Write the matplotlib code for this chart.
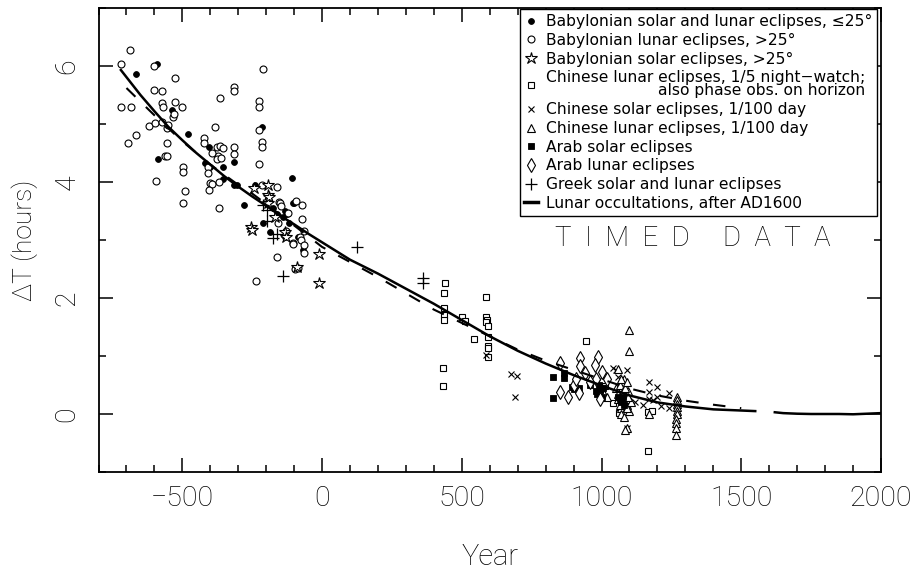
import matplotlib
matplotlib.use("Agg")
import matplotlib.pyplot as plt
from matplotlib.lines import Line2D
from matplotlib.ticker import MultipleLocator

# ---- observations: (year, Delta T in hours) ----
bab_low_year = [-665, -592, -537, -587, -481, -406, -420, -401, -315, -354,
                -354, -314, -305, -280, -239, -216, -212, -188, -108, -100,
                -105, -132, -126, -160, -140, -132, -88, -67, -120, -175]
bab_low_dt = [5.87, 6.03, 5.24, 4.39, 4.83, 4.60, 4.32, 4.26, 4.34, 4.26,
              4.05, 3.94, 3.94, 3.61, 3.95, 4.94, 3.30, 3.14, 4.07, 3.64,
              3.63, 3.50, 3.45, 3.45, 3.40, 3.06, 3.06, 2.83, 3.30, 3.55]

bab_lunar_year = [-686, -721, -600, -720, -684, -694, -665, -601, -573, -525,
                  -620, -599, -573, -555, -553, -554, -562, -556, -525, -501,
                  -573, -568, -535, -530, -596, -499, -499, -489, -499, -382,
                  -422, -422, -365, -315, -315, -315, -315, -375, -365, -355,
                  -371, -407, -407, -402, -395, -368, -404, -368, -211, -225,
                  -225, -225, -216, -216, -225, -216, -161, -154, -162, -73,
                  -73, -93, -121, -80, -76, -64, -64, -64, -104, -156,
                  -130, -238, -96, -88, -105, -150, -146, -375, -360, -395]
bab_lunar_dt = [6.28, 6.03, 6.00, 5.30, 5.30, 4.67, 4.81, 5.59, 5.57, 5.80,
                4.97, 5.01, 5.04, 4.93, 4.98, 4.68, 4.45, 4.45, 5.38, 5.29,
                5.36, 5.30, 5.12, 5.18, 4.01, 4.26, 4.17, 3.85, 3.63, 4.95,
                4.75, 4.67, 5.45, 5.64, 5.57, 4.61, 4.49, 4.60, 4.62, 4.58,
                4.44, 4.26, 4.16, 3.98, 3.97, 4.00, 3.86, 3.56, 5.95, 5.40,
                5.30, 4.90, 4.69, 4.61, 4.31, 3.95, 3.92, 3.66, 2.71, 3.60,
                3.36, 3.67, 3.46, 3.05, 3.00, 2.91, 2.77, 3.16, 2.95, 3.29,
                3.16, 2.30, 2.50, 2.52, 2.93, 3.64, 3.58, 4.40, 4.42, 4.50]

bab_solar_year = [-254, -250, -192, -192, -192, -168, -132, -90, -243, -10,
                  -10, -189, -130]
bab_solar_dt = [3.22, 3.18, 3.95, 3.78, 3.63, 3.40, 3.14, 2.54, 3.89, 2.76,
                2.26, 3.74, 3.05]

chn_watch_year = [439, 436, 436, 436, 436, 433, 433, 501, 513, 543,
                  585, 586, 590, 586, 594, 592, 592, 592, 594, 945,
                  1040, 1062, 1165, 1165, 1180, 1014, 1000, 1065, 1075]
chn_watch_dt = [2.25, 2.08, 1.82, 1.71, 1.62, 0.79, 0.49, 1.68, 1.60, 1.29,
                2.01, 1.68, 1.62, 1.59, 1.52, 1.33, 1.18, 1.13, 0.98, 1.25,
                0.19, 0.02, -0.64, 0.03, 0.05, 0.48, 0.40, 0.35, 0.50]

chn_solar_year = [586, 677, 699, 689, 1040, 1050, 1090, 1058, 1171, 1171,
                  1197, 1243, 1213, 1240, 1171, 1185, 1090, 1000, 1010, 975,
                  1075, 1120, 1200, 1150]
chn_solar_dt = [1.02, 0.69, 0.66, 0.30, 0.79, 0.76, 0.75, 0.64, 0.56, 0.38,
                0.47, 0.37, 0.13, 0.11, 0.25, 0.24, -0.25, 0.45, 0.62, 0.55,
                0.30, 0.20, 0.30, 0.15]

chn_lunar_year = [1098, 1098, 1269, 1269, 1269, 1269, 1269, 1269, 1268, 1267,
                  1266, 1265, 1091, 1084, 1060, 1080, 1075, 1070, 1085, 1090,
                  1100, 1060, 1050, 1170, 1080, 1095, 1065, 1070, 1100, 1080,
                  1010, 990, 1000, 1020, 1090, 1105, 1060, 1065, 1075, 1085,
                  1095, 1070, 1090]
chn_lunar_dt = [1.44, 1.09, 0.30, 0.24, 0.18, 0.12, 0.06, 0.00, -0.08, -0.16,
                -0.24, -0.36, -0.25, -0.27, 0.78, 0.30, 0.20, 0.10, 0.05, 0.15,
                0.25, 0.35, 0.45, 0.00, 0.60, 0.40, 0.50, 0.00, 0.05, -0.05,
                0.35, 0.45, 0.60, 0.30, 0.10, 0.20, 0.25, 0.15, 0.40, 0.45,
                0.30, 0.60, 0.55]

arab_solar_year = [826, 864, 866, 895, 900, 921, 826, 980, 985, 1000,
                   990, 1005, 960, 1060, 1070, 995, 1065, 1075, 1080]
arab_solar_dt = [0.63, 0.70, 0.62, 0.47, 0.43, 0.45, 0.28, 0.40, 0.35, 0.30,
                 0.50, 0.45, 0.50, 0.30, 0.20, 0.42, 0.25, 0.30, 0.15]

arab_lunar_year = [852, 924, 924, 988, 1001, 852, 921, 980, 960, 900,
                   880, 940, 1020, 995, 975, 910]
arab_lunar_dt = [0.88, 0.96, 0.82, 0.98, 0.73, 0.38, 0.36, 0.60, 0.55, 0.50,
                 0.30, 0.70, 0.60, 0.25, 0.85, 0.60]

greek_year = [-198, -198, -174, 124, -140, 362, 362, -210, -160]
greek_dt = [3.52, 3.32, 3.03, 2.88, 2.38, 2.34, 2.25, 3.60, 3.10]

# ---- fitted curves ----
fit_year = [-720, -650, -600, -550, -500, -450, -400, -350, -300, -250,
            -200, -150, -100, -50, 0, 100, 200, 300, 400, 500,
            600, 700, 800, 900, 1000, 1100, 1200, 1300, 1400, 1500, 1550]
fit_dt = [5.93, 5.50, 5.22, 4.95, 4.72, 4.50, 4.30, 4.10, 3.92, 3.75,
          3.59, 3.42, 3.27, 3.11, 2.96, 2.66, 2.42, 2.16, 1.90, 1.62,
          1.34, 1.09, 0.87, 0.67, 0.49, 0.32, 0.20, 0.13, 0.08, 0.06, 0.05]

alt_year = [-700, -600, -500, -400, -300, -250, -200, -100, 0, 100,
            200, 300, 400, 500, 600, 700, 800, 900, 1000, 1100,
            1200, 1300, 1400, 1500]
alt_dt = [5.62, 5.15, 4.70, 4.30, 3.95, 3.80, 3.62, 3.25, 2.88, 2.62,
          2.36, 2.08, 1.80, 1.57, 1.34, 1.11, 0.92, 0.76, 0.60, 0.44,
          0.32, 0.23, 0.16, 0.10]

occ_year = [1620, 1650, 1700, 1750, 1800, 1850, 1900, 1950, 2000]
occ_dt = [0.03, 0.015, 0.005, 0.0, 0.0, 0.0, -0.005, 0.005, 0.015]

legend_labels = [
    "Babylonian solar and lunar eclipses, \u226425\u00b0",
    "Babylonian lunar eclipses, >25\u00b0",
    "Babylonian solar eclipses, >25\u00b0",
    "Chinese lunar eclipses, 1/5 night\u2212watch;\nalso phase obs. on horizon",
    "Chinese solar eclipses, 1/100 day",
    "Chinese lunar eclipses, 1/100 day",
    "Arab solar eclipses",
    "Arab lunar eclipses",
    "Greek solar and lunar eclipses",
    "Lunar occultations, after AD1600",
]

FONT = ["Roboto", "DejaVu Sans"]


def draw_delta_t():
    plt.rcParams["font.family"] = FONT
    plt.rcParams["font.weight"] = "light"
    plt.rcParams["axes.labelweight"] = "light"

    fig = plt.figure(figsize=(9.2, 5.74), dpi=100)
    ax = fig.add_axes([0.1071, 0.1777, 0.8505, 0.8084])

    k = dict(color="black", linestyle="none")
    # series styles, in legend order
    styles = [
        dict(marker="o", ms=4.2, mfc="black", mew=0.6),
        dict(marker="o", ms=5.0, mfc="white", mew=0.8),
        dict(marker="*", ms=9, mfc="white", mew=0.8),
        dict(marker="s", ms=5, mfc="white", mew=0.8),
        dict(marker="x", ms=5, mew=0.8),
        dict(marker="^", ms=6, mfc="white", mew=0.8),
        dict(marker="s", ms=4.2, mfc="black", mew=0.6),
        dict(marker="d", ms=7.5, mfc="white", mew=0.8),
        dict(marker="+", ms=8, mew=0.9),
    ]
    series = [
        (bab_low_year, bab_low_dt),
        (bab_lunar_year, bab_lunar_dt),
        (bab_solar_year, bab_solar_dt),
        (chn_watch_year, chn_watch_dt),
        (chn_solar_year, chn_solar_dt),
        (chn_lunar_year, chn_lunar_dt),
        (arab_solar_year, arab_solar_dt),
        (arab_lunar_year, arab_lunar_dt),
        (greek_year, greek_dt),
    ]

    ax.plot(fit_year, fit_dt, color="black", lw=1.8, zorder=3)
    ax.plot(alt_year, alt_dt, color="black", lw=1.5, ls=(0, (6, 7)), zorder=3)
    ax.plot(occ_year, occ_dt, color="black", lw=1.8, zorder=3)

    for (yr, dt), st in zip(series, styles):
        ax.plot(yr, dt, mec="black", zorder=2, **k, **st)

    ax.set_xlim(-800, 2000)
    ax.set_ylim(-1, 7)
    ax.xaxis.set_major_locator(MultipleLocator(500))
    ax.xaxis.set_minor_locator(MultipleLocator(100))
    ax.yaxis.set_major_locator(MultipleLocator(2))
    ax.yaxis.set_minor_locator(MultipleLocator(1))
    ax.tick_params(which="both", direction="in", top=True, right=True,
                   width=1.1, labelsize=20.5)
    ax.tick_params(which="major", length=10)
    ax.tick_params(which="minor", length=5)
    ax.tick_params(axis="x", pad=9)
    ax.tick_params(axis="y", pad=13, labelrotation=90)
    for lab in ax.get_yticklabels():
        lab.set_va("center")
    for s in ax.spines.values():
        s.set_linewidth(1.3)

    ax.set_xlabel("Year", fontsize=21, labelpad=23)
    ax.set_ylabel("\u0394T (hours)", fontsize=19, labelpad=11)

    ax.text(1325, 3.03, "T  I  M  E  D     D  A  T  A", fontsize=20,
            ha="center", va="center")

    handles = [Line2D([], [], mec="black", **k, **st) for st in styles]
    handles.append(Line2D([], [], color="black", lw=2.5))
    leg = ax.legend(handles, legend_labels, loc="upper right",
                    bbox_to_anchor=(0.995, 0.997),
                    prop=dict(family="DejaVu Sans", size=11.2, weight="normal"),
                    frameon=True, fancybox=False, edgecolor="black",
                    framealpha=1, borderpad=0.3, labelspacing=0.24,
                    handlelength=0.9, handletextpad=0.5, borderaxespad=0)
    leg.get_frame().set_linewidth(1.0)
    two_line = leg.get_texts()[3]
    two_line.set_multialignment("right")
    two_line.set_linespacing(0.85)

    fig.savefig("out.png", dpi=100)


if __name__ == "__main__":
    draw_delta_t()
